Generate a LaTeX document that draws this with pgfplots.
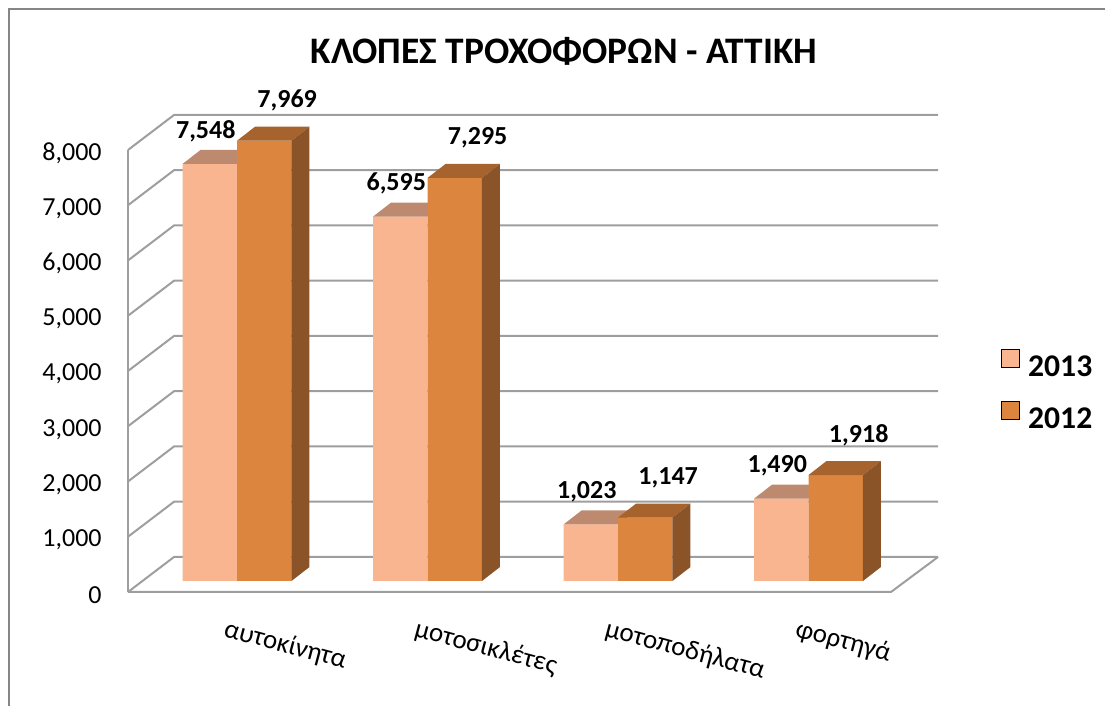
\documentclass[border=0pt]{standalone}
\usepackage{fontspec}
\setmainfont{Carlito}
\usepackage{pgfplots}
\pgfplotsset{compat=1.18}
\definecolor{cA}{RGB}{249,181,143}
\definecolor{cAtop}{RGB}{190,138,111}
\definecolor{cB}{RGB}{220,133,62}
\definecolor{cBtop}{RGB}{166,99,46}
\definecolor{cBside}{RGB}{139,84,40}
\definecolor{gridc}{RGB}{158,158,158}
\definecolor{framec}{RGB}{134,134,134}
\begin{document}
\begin{tikzpicture}
\begin{axis}[
  scale only axis, width=552.5pt, height=353pt,
  xmin=-1.24409, xmax=4.55643, ymin=-2262.4, ymax=10515.8,
  clip=false,
  axis line style={draw=none},
  major tick length=0pt,
  scaled y ticks=false,
  /pgf/number format/.cd, 1000 sep={,}, assume math mode=true, /pgfplots/.cd,
  ytick={-199.1,800.9,1800.9,2800.9,3800.9,4800.9,5800.9,6800.9,7800.9},
  yticklabels={0,{1,000},{2,000},{3,000},{4,000},{5,000},{6,000},{7,000},{8,000}},
  yticklabel style={anchor=east, inner sep=0pt, xshift=51pt, yshift=-1.5pt, font=\fontsize{13}{15}\selectfont},
  xtick={-0.076,0.924,1.924,2.924},
  xticklabels={αυτοκίνητα,μοτοσικλέτες,μοτοποδήλατα,φορτηγά},
  xticklabel style={rotate=-15, anchor=base west, inner sep=0pt, font=\fontsize{13.5}{15}\selectfont},
  xticklabel shift=-35pt,
  legend image code/.code={\fill[#1] (0pt,0pt) rectangle (9pt,9pt);},
  legend style={at={(axis cs:4.0105,3411.8)}, anchor=west, draw=none, fill=none,
    inner sep=0pt, row sep=9pt, font=\bfseries\fontsize{15.8}{17}\selectfont,
    /tikz/every odd column/.append style={column sep=2pt}},
  legend cell align=left,
]
% frame
\draw[framec, line width=1pt] (rel axis cs:0.008145,0) -- (rel axis cs:0.008145,0.98725) -- (rel axis cs:1,0.98725);
% walls and floor
\addplot[forget plot, gridc, line width=1pt] coordinates {(-0.57218,-199.1) (-0.57218,7800.9)};
\addplot[forget plot, gridc, line width=1pt] coordinates {(-0.57218,-199.1) (3.43307,-199.1) (3.67979,434.4)};
\addplot[forget plot, gridc, line width=1pt] coordinates {(-0.57218,-199.1) (-0.33071,434.4) (3.67979,434.4)};
\addplot[forget plot, gridc, line width=1pt] coordinates {(-0.57218,800.9) (-0.33071,1434.4) (3.67979,1434.4)};
\addplot[forget plot, gridc, line width=1pt] coordinates {(-0.57218,1800.9) (-0.33071,2434.4) (3.67979,2434.4)};
\addplot[forget plot, gridc, line width=1pt] coordinates {(-0.57218,2800.9) (-0.33071,3434.4) (3.67979,3434.4)};
\addplot[forget plot, gridc, line width=1pt] coordinates {(-0.57218,3800.9) (-0.33071,4434.4) (3.67979,4434.4)};
\addplot[forget plot, gridc, line width=1pt] coordinates {(-0.57218,4800.9) (-0.33071,5434.4) (3.67979,5434.4)};
\addplot[forget plot, gridc, line width=1pt] coordinates {(-0.57218,5800.9) (-0.33071,6434.4) (3.67979,6434.4)};
\addplot[forget plot, gridc, line width=1pt] coordinates {(-0.57218,6800.9) (-0.33071,7434.4) (3.67979,7434.4)};
\addplot[forget plot, gridc, line width=1pt] coordinates {(-0.57218,7800.9) (-0.33071,8434.4) (3.67979,8434.4)};
% 2013 bars (front faces)
\addplot[forget plot, ybar, bar width=0.286, bar shift=-0.143, fill=cA, draw=none,
  nodes near coords, nodes near coords style={anchor=center, xshift=-15.6pt, yshift=16.5pt, font=\bfseries\fontsize{13}{15}\selectfont, text=black}]
  coordinates {(0,7548) (1,6595) (2,1023) (3,1490)};
% 2013 top faces
\addplot[forget plot, fill=cAtop, draw=none] coordinates {(-0.286,7548) (0,7548) (0.0945,7801) (-0.1915,7801)} --cycle;
\addplot[forget plot, fill=cAtop, draw=none] coordinates {(0.714,6595) (1,6595) (1.0945,6848) (0.8085,6848)} --cycle;
\addplot[forget plot, fill=cAtop, draw=none] coordinates {(1.714,1023) (2,1023) (2.0945,1276) (1.8085,1276)} --cycle;
\addplot[forget plot, fill=cAtop, draw=none] coordinates {(2.714,1490) (3,1490) (3.0945,1743) (2.8085,1743)} --cycle;
% 2012 bars (front faces)
\addplot[forget plot, ybar, bar width=0.286, bar shift=0.143, fill=cB, draw=none,
  nodes near coords, nodes near coords style={anchor=center, xshift=25.1pt, yshift=20pt, font=\bfseries\fontsize{13}{15}\selectfont, text=black}]
  coordinates {(0,7969) (1,7295) (2,1147) (3,1918)};
% 2012 top faces
\addplot[forget plot, fill=cBtop, draw=none] coordinates {(0,7969) (0.286,7969) (0.3805,8222) (0.0945,8222)} --cycle;
\addplot[forget plot, fill=cBtop, draw=none] coordinates {(1,7295) (1.286,7295) (1.3805,7548) (1.0945,7548)} --cycle;
\addplot[forget plot, fill=cBtop, draw=none] coordinates {(2,1147) (2.286,1147) (2.3805,1400) (2.0945,1400)} --cycle;
\addplot[forget plot, fill=cBtop, draw=none] coordinates {(3,1918) (3.286,1918) (3.3805,2171) (3.0945,2171)} --cycle;
% 2012 side faces
\addplot[forget plot, fill=cBside, draw=none] coordinates {(0.286,0) (0.286,7969) (0.3805,8222) (0.3805,253)} --cycle;
\addplot[forget plot, fill=cBside, draw=none] coordinates {(1.286,0) (1.286,7295) (1.3805,7548) (1.3805,253)} --cycle;
\addplot[forget plot, fill=cBside, draw=none] coordinates {(2.286,0) (2.286,1147) (2.3805,1400) (2.3805,253)} --cycle;
\addplot[forget plot, fill=cBside, draw=none] coordinates {(3.286,0) (3.286,1918) (3.3805,2171) (3.3805,253)} --cycle;
% title
\node[anchor=base, font=\bfseries\fontsize{18.7}{20}\selectfont] at (axis cs:1.7165,9357.4) {ΚΛΟΠΕΣ ΤΡΟΧΟΦΟΡΩΝ - ΑΤΤΙΚΗ};
% legend
\addlegendimage{fill=cA}
\addlegendentry{2013}
\addlegendimage{fill=cB}
\addlegendentry{2012}
\end{axis}
\pgfresetboundingbox
\path[use as bounding box] (0,0) rectangle (552.5pt,353pt);
\end{tikzpicture}
\end{document}
